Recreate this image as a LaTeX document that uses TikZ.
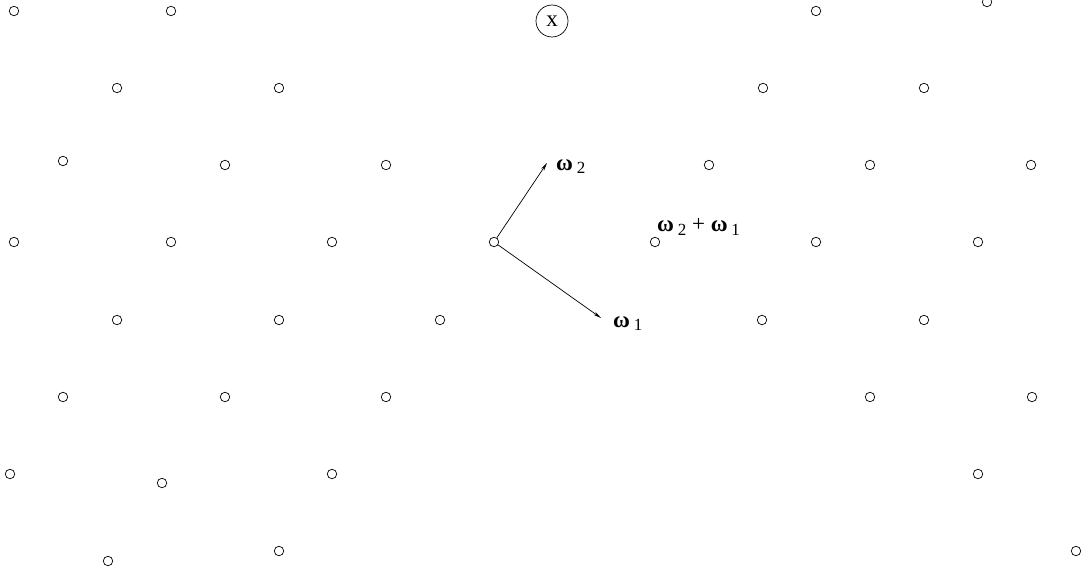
\documentclass[tikz,border=0pt]{standalone}
\usepackage{fontspec}
\setmainfont{Liberation Serif}
\usetikzlibrary{arrows.meta}

\newcommand{\om}[1]{{\bfseries ω}\,\raisebox{-0.3ex}{\fontsize{17}{18}\selectfont #1}}

\begin{document}
\begin{tikzpicture}[x=1pt,y=-1pt,
  lat/.style={circle,draw,line width=0.7pt,minimum size=9.5pt,inner sep=0pt},
  vec/.style={line width=0.7pt,-{Stealth[length=8pt,width=3.5pt]}},
  lbl/.style={anchor=west,inner sep=0pt,font=\fontsize{23}{25}\selectfont}]
\useasboundingbox (0,0) rectangle (1085,575);
% lattice points
\foreach \x/\y [count=\i] in %
{14/11,171/11,816/11,987/2,
 117/88,279/88,763/88,924/88,
 63/161,225/165,386/165,709/165,870/165,1031/165,
 14/242,171/242,332/242,655/242,816/242,978/242,
 117/320,279/320,440/320,762/320,924/320,
 63/397,225/397,386/397,870/397,1032/397,
 10/474,162/483,332/474,978/474,
 108/561,279/551,1076/551} {
   \node[lat] (p\i) at (\x,\y) {};
}
\node[lat] (o) at (494,242) {};
\node[circle,draw,line width=0.7pt,minimum size=32pt,inner sep=0pt,
  font=\fontsize{23}{24}\selectfont] (xpt) at (552,21) {x};
% periods
\coordinate (w2) at (547,163);
\coordinate (w1) at (601,318);
\draw[vec] (o) -- (w2);
\draw[vec] (o) -- (w1);
\node[lbl] (l2) at (556,167) {\om{2}};
\node[lbl] (l1) at (613,324) {\om{1}};
\node[lbl] (l21) at (657,227) {\om{2} + \om{1}};
\end{tikzpicture}
\end{document}
